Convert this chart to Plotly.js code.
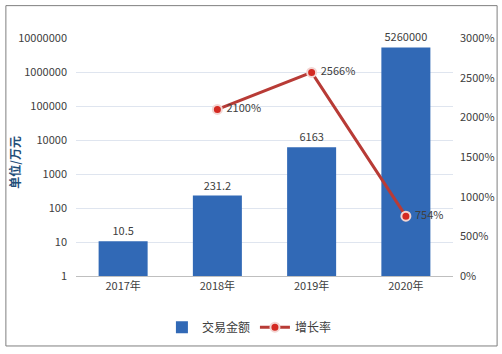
<!DOCTYPE html>
<html><head><meta charset="utf-8">
<script src="https://cdn.plot.ly/plotly-3.0.1.min.js"></script>
<style>html,body{margin:0;padding:0;background:#fff}#c{width:502px;height:354px}</style>
</head><body><div id="c"></div>
<script>
const categories = ['2017年', '2018年', '2019年', '2020年'];
const amount = [10.5, 231.2, 6163, 5260000];
const amountLabels = ['10.5', '231.2', '6163', '5260000'];
const growthCats = ['2018年', '2019年', '2020年'];
const growth = [2100, 2566, 754];
const growthLabels = ['2100%', '2566%', '754%'];
const leftTicks = [1, 10, 100, 1000, 10000, 100000, 1000000, 10000000];
const rightTicks = [0, 500, 1000, 1500, 2000, 2500, 3000];

const font = 'Noto Sans CJK SC, Noto Sans, sans-serif';
const traces = [
  {type: 'bar', name: '交易金额', x: categories, y: amount, text: amountLabels,
   textposition: 'outside', cliponaxis: false, textfont: {size: 11, color: '#404040', family: font},
   marker: {color: '#3169b6'}, width: 0.52},
  {type: 'scatter', mode: 'lines+markers+text', name: '增长率', x: growthCats, y: growth, yaxis: 'y2',
   text: growthLabels.map(t => '\u00a0' + t), textposition: 'middle right', cliponaxis: false,
   textfont: {size: 11, color: '#404040', family: font},
   line: {color: '#b83b36', width: 3},
   marker: {color: '#d42a22', size: 9, line: {color: '#f3d6d3', width: 2}}}
];
const layout = {
  width: 502, height: 354,
  margin: {l: 76, r: 49, t: 38, b: 76},
  paper_bgcolor: '#fff', plot_bgcolor: '#fff',
  font: {family: font, size: 11, color: '#595959'},
  showlegend: true,
  legend: {orientation: 'h', x: 0.46, xanchor: 'center', y: -0.215, yanchor: 'middle',
           font: {size: 12, color: '#404040'}, traceorder: 'normal', itemwidth: 30},
  bargap: 0.48,
  xaxis: {type: 'category', categoryorder: 'array', categoryarray: categories,
          showline: true, linecolor: '#bfbfbf', linewidth: 1, ticks: '', showgrid: false,
          tickfont: {size: 11, color: '#404040'}},
  yaxis: {type: 'log', range: [0, 7], tickvals: leftTicks, ticktext: leftTicks.map(String),
          showgrid: true, gridcolor: '#dfe5ef', gridwidth: 1, zeroline: false,
          ticks: '', tickfont: {size: 11, color: '#404040'}, ticklabelstandoff: 8},
  yaxis2: {overlaying: 'y', side: 'right', range: [0, 3000], tickvals: rightTicks,
           ticktext: rightTicks.map(v => v + '%'), showgrid: false, zeroline: false,
           ticks: '', tickfont: {size: 11, color: '#404040'}, ticklabelstandoff: 6},
  annotations: [{text: '<b>单位/万元</b>', xref: 'paper', yref: 'paper', x: -0.162, y: 0.48,
                 xanchor: 'center', yanchor: 'middle',
                 textangle: -90, showarrow: false, font: {size: 12, color: '#1f4e79', family: font}}],
  shapes: [{type: 'rect', xref: 'paper', yref: 'paper', x0: -0.186, x1: 1.117, y0: -0.294, y1: 1.136,
            line: {color: '#7f7f7f', width: 1}, fillcolor: 'rgba(0,0,0,0)'}]
};
Plotly.newPlot('c', traces, layout, {displayModeBar: false, staticPlot: true});
</script></body></html>
